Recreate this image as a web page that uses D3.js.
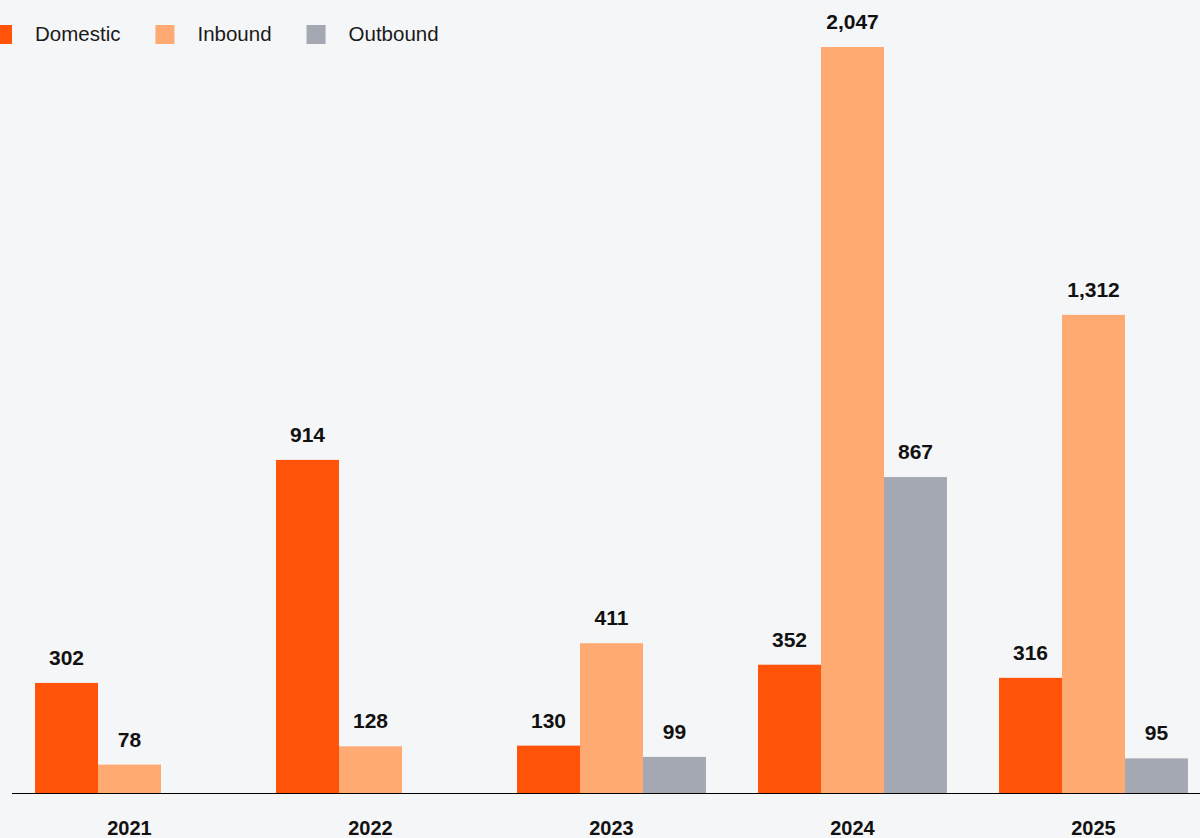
<!DOCTYPE html>
<html><head><meta charset="utf-8">
<script src="https://cdn.jsdelivr.net/npm/d3@7"></script>
<style>
html,body{margin:0;padding:0;background:#f5f6f8;}
svg{display:block;font-family:"Liberation Sans",Arial,Helvetica,sans-serif;}
</style></head>
<body>
<svg id="c" width="1200" height="838"></svg>
<script>
const years = ["2021","2022","2023","2024","2025"];
const seriesNames = ["Domestic","Inbound","Outbound"];
const domestic = [302, 914, 130, 352, 316];
const inbound = [78, 128, 411, 2047, 1312];
const outbound = [null, null, 99, 867, 95];
const colors = ["#ff530a","#ffaa72","#a3a8b3"];

const seriesValues = [domestic, inbound, outbound];
const svg = d3.select("#c");
const W = 1200, H = 838;
svg.append("rect").attr("width",W).attr("height",H).attr("fill","#f5f6f8");

const x0 = d3.scaleBand().domain(years).range([9,1214]).paddingInner(0.216).paddingOuter(0.108);
const x1 = d3.scaleBand().domain(seriesNames).range([0,x0.bandwidth()]);
const y = d3.scaleLinear().domain([0,2047]).range([793,47]);

const g = svg.append("g");
years.forEach((yr,i)=>{
  seriesNames.forEach((s,j)=>{
    const v = seriesValues[j][i];
    if(v==null) return;
    const bx = x0(yr)+x1(s);
    g.append("rect").attr("x",bx).attr("y",y(v)).attr("width",x1.bandwidth()).attr("height",y(0)-y(v)).attr("fill",colors[j]);
    g.append("text").attr("x",bx+x1.bandwidth()/2).attr("y",y(v)-18)
      .attr("text-anchor","middle").attr("font-size",21).attr("font-weight","bold").attr("fill","#111")
      .text(d3.format(",")(v));
  });
});

// axis line
svg.append("line").attr("x1",12).attr("x2",1200).attr("y1",y(0)+0.5).attr("y2",y(0)+0.5).attr("stroke","#000").attr("stroke-width",1.2);

// year labels
const xa = svg.append("g").attr("transform",`translate(0,${y(0)})`)
  .call(d3.axisBottom(x0).tickSize(0).tickPadding(0));
xa.select(".domain").remove();
xa.selectAll("text").attr("font-size",20).attr("font-weight","bold").attr("fill","#111")
  .attr("font-family","Liberation Sans,Arial,sans-serif").attr("dy",null).attr("y",42);

// legend
const leg = svg.append("g");
let lx = -7;
seriesNames.forEach((s,j)=>{
  leg.append("rect").attr("x",lx).attr("y",25).attr("width",19).attr("height",19).attr("fill",colors[j]);
  const t = leg.append("text").attr("x",lx+42).attr("y",41).attr("font-size",20.5).attr("fill","#1a1a1a").text(s);
  const w = t.node().getComputedTextLength();
  lx = lx + 42 + w + 35;
});
</script>
</body></html>
